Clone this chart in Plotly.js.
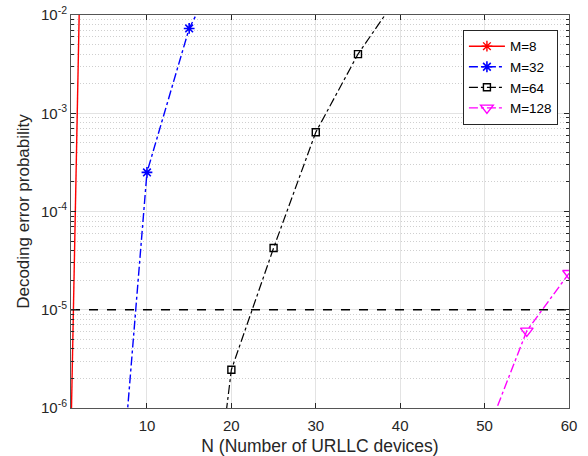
<!DOCTYPE html>
<html>
<head>
<meta charset="utf-8">
<script src="https://cdn.plot.ly/plotly-3.0.1.min.js"></script>
<style>html,body{margin:0;padding:0;background:#fff}#chart{width:588px;height:456px}</style>
</head>
<body>
<div id="chart"></div>
<script>
// Data
const seriesNames = ["M=8", "M=32", "M=64", "M=128"];
const x_M8 = [1, 2];
const y_M8 = [5.5e-7, 1.4e-2];
const x_M32 = [5, 10, 15, 20];
const y_M32 = [1.4e-9, 2.5e-4, 7.3e-3, 5e-2];
const x_M64 = [15, 20, 25, 30, 35, 40];
const y_M64 = [7.4e-10, 2.45e-6, 4.25e-5, 6.4e-4, 4.0e-3, 1.67e-2];
const x_M128 = [50, 55, 60];
const y_M128 = [4.8e-7, 6.1e-6, 2.35e-5];
const thresholdX = [1, 60];
const thresholdY = [1e-5, 1e-5];
const xTickVals = [10, 20, 30, 40, 50, 60];
const yTickVals = [1e-6, 1e-5, 1e-4, 1e-3, 1e-2];
const yTickText = ["10<sup>-6</sup>", "10<sup>-5</sup>", "10<sup>-4</sup>", "10<sup>-3</sup>", "10<sup>-2</sup>"];

const font = "Liberation Sans, Arial, Helvetica, sans-serif";
const traces = [
  {x: x_M8, y: y_M8, name: seriesNames[0], mode: "lines+markers",
   line: {color: "#ff0000", width: 1.4, dash: "solid"},
   marker: {symbol: "asterisk-open", size: 9, color: "#ff0000", line: {color: "#ff0000", width: 1.4}}},
  {x: x_M32, y: y_M32, name: seriesNames[1], mode: "lines+markers",
   line: {color: "#0000ff", width: 1.4, dash: "dashdot"},
   marker: {symbol: "asterisk-open", size: 9, color: "#0000ff", line: {color: "#0000ff", width: 1.6}}},
  {x: x_M64, y: y_M64, name: seriesNames[2], mode: "lines+markers",
   line: {color: "#000000", width: 1.2, dash: "dashdot"},
   marker: {symbol: "square-open", size: 7, color: "#000000", line: {color: "#000000", width: 1.4}}},
  {x: x_M128, y: y_M128, name: seriesNames[3], mode: "lines+markers",
   line: {color: "#ff00ff", width: 1.4, dash: "dashdot"},
   marker: {symbol: "triangle-down-open", size: 11, color: "#ff00ff", line: {color: "#ff00ff", width: 1.4}}},
  {x: thresholdX, y: thresholdY, mode: "lines", showlegend: false, hoverinfo: "skip",
   line: {color: "#000000", width: 1.3, dash: "dash"}}
];

const layout = {
  width: 588, height: 456,
  margin: {l: 71, r: 19, t: 15, b: 48, pad: 0},
  paper_bgcolor: "#ffffff", plot_bgcolor: "#ffffff",
  font: {family: font, size: 14, color: "#262626"},
  showlegend: true,
  legend: {x: 0.787, y: 0.962, xanchor: "left", yanchor: "top",
    bgcolor: "#ffffff", bordercolor: "#262626", borderwidth: 1,
    font: {family: font, size: 13.5, color: "#000000"}, itemwidth: 36,
    tracegroupgap: 0},
  xaxis: {
    range: [1, 60], tickvals: xTickVals, ticks: "inside", ticklen: 5,
    tickcolor: "#262626", showline: true, linecolor: "#555555", linewidth: 1, mirror: "ticks",
    showgrid: true, gridcolor: "#e3e3e3", gridwidth: 1, zeroline: false,
    automargin: false, ticklabelstandoff: 4,
    title: {text: "N (Number of URLLC devices)", font: {family: font, size: 17.5, color: "#262626"}, standoff: 6},
    tickfont: {family: font, size: 15, color: "#262626"}
  },
  yaxis: {
    type: "log", range: [-6, -2], tickvals: yTickVals, ticktext: yTickText,
    ticks: "inside", ticklen: 5, tickcolor: "#262626",
    showline: true, linecolor: "#555555", linewidth: 1, mirror: "ticks",
    showgrid: true, gridcolor: "#e3e3e3", gridwidth: 1, zeroline: false,
    automargin: false,
    minor: {dtick: "D1", ticks: "inside", ticklen: 3, tickcolor: "#262626",
            showgrid: true, gridcolor: "#cfcfcf", griddash: "1px,2px", gridwidth: 1},
    title: {text: "Decoding error probability", font: {family: font, size: 17, color: "#262626"}, standoff: 7},
    tickfont: {family: font, size: 15, color: "#262626"}
  }
};

Plotly.newPlot("chart", traces, layout, {staticPlot: true, displayModeBar: false});
</script>
</body>
</html>
